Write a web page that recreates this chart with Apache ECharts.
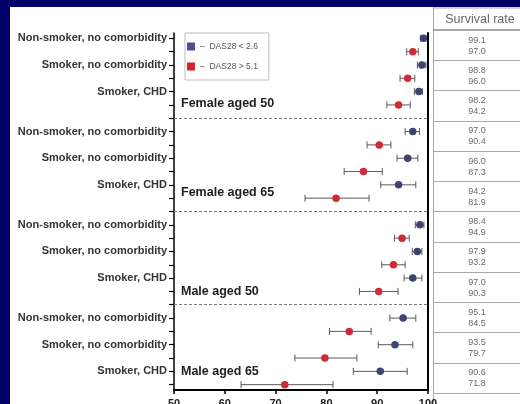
<!DOCTYPE html>
<html><head><meta charset="utf-8">
<script src="https://cdn.jsdelivr.net/npm/echarts@6/dist/echarts.min.js"></script>
<style>html,body{margin:0;padding:0;background:#fff}#c{width:520px;height:404px}</style>
</head><body><div id="c"></div>
<script>
// ---- data ----
const categories = ['Non-smoker, no comorbidity', 'Smoker, no comorbidity', 'Smoker, CHD'];
const groups = ['Female aged 50', 'Female aged 65', 'Male aged 50', 'Male aged 65'];
const seriesNames = ['DAS28 < 2.6', 'DAS28 > 5.1'];
const xTicks = [50, 60, 70, 80, 90, 100];
const tableHeader = 'Survival rate';
// survival rate, DAS28 < 2.6 (ordered group by group, category by category)
const rateLow = [99.1, 98.8, 98.2, 97.0, 96.0, 94.2, 98.4, 97.9, 97.0, 95.1, 93.5, 90.6];
const lowerLow = [98.6, 97.9, 97.3, 95.5, 93.9, 90.7, 97.5, 96.9, 95.3, 92.5, 90.2, 85.3];
const upperLow = [99.6, 99.6, 98.9, 98.3, 98.0, 97.6, 99.2, 98.8, 98.8, 97.6, 97.0, 95.9];
// survival rate, DAS28 > 5.1
const rateHigh = [97.0, 96.0, 94.2, 90.4, 87.3, 81.9, 94.9, 93.2, 90.3, 84.5, 79.7, 71.8];
const lowerHigh = [95.8, 94.5, 91.9, 88.0, 83.5, 75.8, 93.4, 90.9, 86.5, 80.6, 73.8, 63.2];
const upperHigh = [98.1, 97.4, 96.5, 92.7, 91.0, 88.4, 96.3, 95.5, 94.1, 88.8, 86.0, 81.3];

// ---- layout helpers ----
const STRIDE = 7; // rows per group incl. separator
const nG = groups.length, nC = categories.length;
function rowPos(g, c, s) { return g * STRIDE + c * 2 + s; }
const rates = [rateLow, rateHigh], lowers = [lowerLow, lowerHigh], uppers = [upperLow, upperHigh];
const colors = ['#3e4370', '#cf2a36'];
const legendColors = ['#4b5192', '#d3232f'];

const tickVals = [], labelVals = [], sepVals = [];
for (let g = 0; g < nG; g++) {
  for (let r = 0; r < 2 * nC; r++) tickVals.push(g * STRIDE + r);
  for (let c = 0; c < nC; c++) labelVals.push(rowPos(g, c, 0));
  if (g < nG - 1) { sepVals.push(g * STRIDE + 2 * nC); tickVals.push(g * STRIDE + 2 * nC); }
}

const series = [];
for (let s = 0; s < 2; s++) {
  const ebData = [], ptData = [];
  for (let g = 0; g < nG; g++) for (let c = 0; c < nC; c++) {
    const k = g * nC + c;
    ebData.push([lowers[s][k], uppers[s][k], rowPos(g, c, s)]);
    ptData.push([rates[s][k], rowPos(g, c, s)]);
  }
  series.push({
    type: 'custom', name: 'ci' + s, xAxisIndex: 0, yAxisIndex: 0, silent: true, z: 3,
    data: ebData,
    renderItem: function (params, api) {
      const a = api.coord([api.value(0), api.value(2)]);
      const b = api.coord([api.value(1), api.value(2)]);
      const h = 3.5, st = { stroke: '#5a5a5a', lineWidth: 1 };
      return { type: 'group', children: [
        { type: 'line', shape: { x1: a[0], y1: a[1], x2: b[0], y2: b[1] }, style: st },
        { type: 'line', shape: { x1: a[0], y1: a[1] - h, x2: a[0], y2: a[1] + h }, style: st },
        { type: 'line', shape: { x1: b[0], y1: b[1] - h, x2: b[0], y2: b[1] + h }, style: st }
      ]};
    },
    markLine: s === 0 ? {
      silent: true, symbol: 'none', animation: false,
      label: { show: false },
      lineStyle: { type: [3, 2], color: '#7a7a7a', width: 1 },
      data: sepVals.map(v => ({ yAxis: v }))
    } : undefined
  });
  series.push({
    type: 'scatter', name: seriesNames[s], xAxisIndex: 0, yAxisIndex: 0, z: 4,
    symbol: 'circle', symbolSize: 7.5,
    itemStyle: { color: colors[s], opacity: 1 },
    data: ptData
  });
}
// group labels
series.push({
  type: 'custom', name: 'groups', xAxisIndex: 0, yAxisIndex: 0, silent: true, z: 5,
  data: groups.map((n, g) => [g]),
  renderItem: function (params, api) {
    const g = api.value(0);
    const off = [4.9, 4.6, 5.0, 4.0][g];
    const p = api.coord([50, g * STRIDE + off]);
    return { type: 'text', x: p[0] + 7, y: p[1], style: {
      text: groups[g], fill: '#1e1e1e', font: 'bold 12.5px "Liberation Sans", Arial, sans-serif',
      textAlign: 'left', textVerticalAlign: 'middle' } };
  }
});
// table
series.push({
  type: 'custom', name: 'table', xAxisIndex: 1, yAxisIndex: 2, silent: true,
  data: rateLow.map((v, k) => [k, v, rateHigh[k]]),
  renderItem: function (params, api) {
    const p = api.coord([0.5, api.value(0)]);
    const f = '9px "Liberation Sans", Arial, sans-serif';
    return { type: 'group', children: [
      { type: 'text', x: p[0], y: p[1] - 5, style: { text: api.value(1).toFixed(1), fill: '#6a6a6a', font: f, textAlign: 'center', textVerticalAlign: 'middle' } },
      { type: 'text', x: p[0], y: p[1] + 6, style: { text: api.value(2).toFixed(1), fill: '#6a6a6a', font: f, textAlign: 'center', textVerticalAlign: 'middle' } }
    ]};
  }
});

const option = {
  animation: false,
  backgroundColor: '#ffffff',
  textStyle: { fontFamily: '"Liberation Sans", Arial, sans-serif' },
  grid: [
    { left: 174, right: 92, top: 33, bottom: 14, containLabel: false, outerBoundsMode: 'none' },
    { left: 434, right: 0, top: 30, bottom: 11, containLabel: false, outerBoundsMode: 'none' }
  ],
  legend: {
    orient: 'vertical', left: 185, top: 33,
    data: seriesNames.map((n, i) => ({ name: n, itemStyle: { color: legendColors[i] } })),
    icon: 'rect', itemWidth: 8, itemHeight: 8, itemGap: 11,
    formatter: n => '–  ' + n,
    padding: [9, 11, 9, 2],
    borderColor: '#bdbdbd', borderWidth: 1,
    textStyle: { fontSize: 8.5, color: '#555' }
  },
  xAxis: [
    { type: 'value', gridIndex: 0, min: 50, max: 100, interval: 10, position: 'bottom',
      axisLine: { show: true, onZero: false, lineStyle: { color: '#000', width: 2 } },
      axisTick: { show: true, length: 4, lineStyle: { color: '#000', width: 1.5 } },
      splitLine: { show: false },
      axisLabel: { margin: 8, fontSize: 11, fontWeight: 'bold', color: '#222',
        customValues: xTicks } },
    { type: 'value', gridIndex: 1, min: 0, max: 1, show: false }
  ],
  yAxis: [
    { type: 'value', gridIndex: 0, inverse: true, min: -0.4, max: 26.4,
      axisLine: { show: true, onZero: false, lineStyle: { color: '#000', width: 1.5 } },
      axisTick: { show: true, length: 5, customValues: tickVals, lineStyle: { color: '#000', width: 1.2 } },
      splitLine: { show: false },
      axisLabel: { show: true, margin: 7, fontSize: 11, fontWeight: 'bold', color: '#333',
        customValues: labelVals,
        formatter: v => categories[Math.round((v % STRIDE) / 2)] } },
    { type: 'value', gridIndex: 0, position: 'right', inverse: true, min: -0.4, max: 26.4,
      axisLine: { show: true, onZero: false, lineStyle: { color: '#000', width: 2 } },
      axisTick: { show: false }, axisLabel: { show: false }, splitLine: { show: false } },
    { type: 'category', gridIndex: 1, inverse: true, data: rateLow.map((v, k) => k),
      axisLine: { show: false }, axisTick: { show: false }, axisLabel: { show: false },
      splitLine: { show: true, lineStyle: { color: '#a8a8a8', width: 1 } } }
  ],
  graphic: [
    { type: 'rect', shape: { x: 0, y: 0, width: 10, height: 404 }, style: { fill: '#020066' }, z: 100 },
    { type: 'rect', shape: { x: 0, y: 0, width: 520, height: 7 }, style: { fill: '#020066' }, z: 100 },
    { type: 'line', shape: { x1: 433.5, y1: 7, x2: 433.5, y2: 404 }, style: { stroke: '#a8a8a8', lineWidth: 1 } },
    { type: 'line', shape: { x1: 433, y1: 8, x2: 520, y2: 8 }, style: { stroke: '#a8a8a8', lineWidth: 1 } },
    { type: 'line', shape: { x1: 433, y1: 30, x2: 520, y2: 30 }, style: { stroke: '#8a8a8a', lineWidth: 1.5 } },
    { type: 'text', x: 480, y: 20, style: { text: tableHeader, fill: '#666', font: '12.5px "Liberation Sans", Arial, sans-serif', textAlign: 'center', textVerticalAlign: 'middle' } }
  ],
  series: series
};
const chart = echarts.init(document.getElementById('c'), null, { renderer: 'canvas' });
chart.setOption(option);
</script>
</body></html>
